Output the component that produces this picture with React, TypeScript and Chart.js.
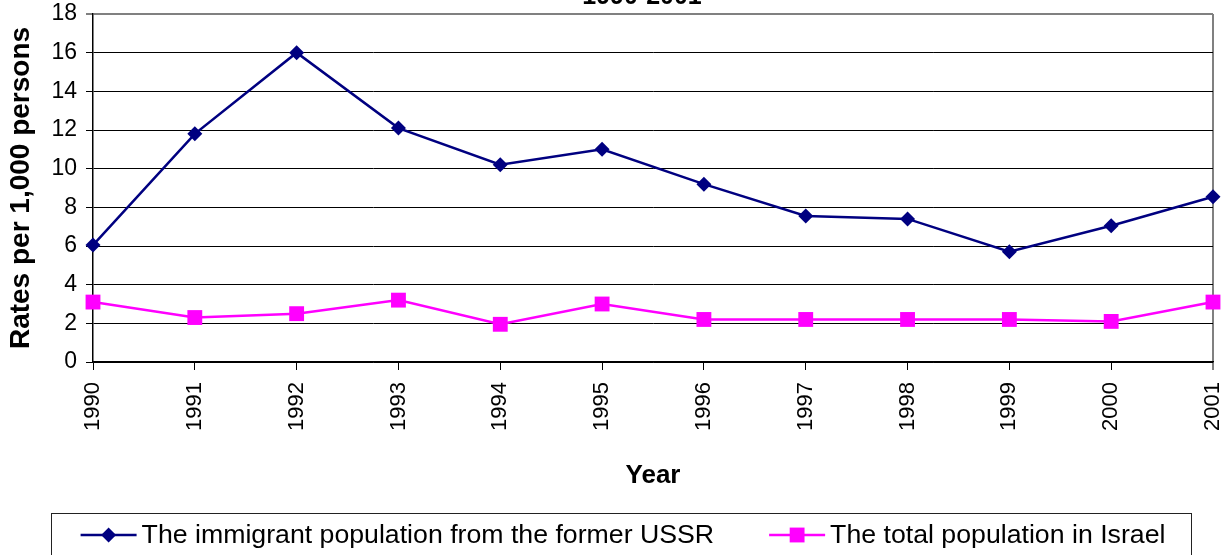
import React, { useEffect, useRef } from 'react';
import { Chart, registerables } from 'chart.js';

Chart.register(...registerables);

// ---- data ----
const years = ['1990', '1991', '1992', '1993', '1994', '1995', '1996', '1997', '1998', '1999', '2000', '2001'];
const immigrantRates = [6.05, 11.8, 16.0, 12.1, 10.2, 11.0, 9.2, 7.55, 7.4, 5.7, 7.05, 8.55];
const totalRates = [3.1, 2.3, 2.5, 3.2, 1.95, 3.0, 2.2, 2.2, 2.2, 2.2, 2.1, 3.1];
const seriesLabels = ['The immigrant population from the former USSR', 'The total population in Israel'];
const yMin = 0;
const yMax = 18;
const yStep = 2;
const chartTitle = '1990-2001';
const yAxisTitle = 'Rates per 1,000 persons';
const xAxisTitle = 'Year';

const FONT = '"Liberation Sans", Arial, Helvetica, sans-serif';

function drawMarker(ctx: CanvasRenderingContext2D, style: string, x: number, y: number, r: number, color: string) {
  ctx.fillStyle = color;
  ctx.beginPath();
  if (style === 'rectRot') {
    ctx.moveTo(x, y - r);
    ctx.lineTo(x + r, y);
    ctx.lineTo(x, y + r);
    ctx.lineTo(x - r, y);
    ctx.closePath();
  } else {
    const s = r * Math.SQRT1_2;
    ctx.rect(x - s, y - s, 2 * s, 2 * s);
  }
  ctx.fill();
}

const boxedLegend = {
  id: 'boxedLegend',
  afterDraw(chart: any, _args: any, opts: any) {
    const ctx: CanvasRenderingContext2D = chart.ctx;
    ctx.save();
    ctx.strokeStyle = opts.borderColor;
    ctx.lineWidth = 1;
    ctx.strokeRect(opts.left + 0.5, opts.top + 0.5, opts.width, opts.height);
    ctx.font = `${opts.fontSize}px ${FONT}`;
    ctx.textBaseline = 'middle';
    ctx.textAlign = 'left';
    const items = chart.data.datasets.map((ds: any) => ({
      label: ds.label as string,
      color: ds.borderColor as string,
      style: ds.pointStyle as string,
      radius: ds.pointRadius as number,
      lw: ds.borderWidth as number,
    }));
    const widths = items.map((it: any) => opts.lineLen + opts.textGap + ctx.measureText(it.label).width);
    const total = widths.reduce((a: number, b: number) => a + b, 0) + opts.itemGap * (items.length - 1);
    let x = opts.left + opts.width / 2 - total / 2 + opts.shift;
    const y = opts.centerY;
    items.forEach((it: any, i: number) => {
      ctx.strokeStyle = it.color;
      ctx.lineWidth = it.lw;
      ctx.beginPath();
      ctx.moveTo(x, y);
      ctx.lineTo(x + opts.lineLen, y);
      ctx.stroke();
      drawMarker(ctx, it.style, x + opts.lineLen / 2, y, it.radius, it.color);
      ctx.fillStyle = '#000';
      ctx.fillText(it.label, x + opts.lineLen + opts.textGap, y + 1);
      x += widths[i] + opts.itemGap;
    });
    ctx.restore();
  },
};

const clippedTitle = {
  id: 'clippedTitle',
  afterDraw(chart: any, _args: any, opts: any) {
    const ctx: CanvasRenderingContext2D = chart.ctx;
    const area = chart.chartArea;
    ctx.save();
    ctx.font = `bold ${opts.fontSize}px ${FONT}`;
    ctx.fillStyle = '#000';
    ctx.textAlign = 'center';
    ctx.textBaseline = 'alphabetic';
    ctx.fillText(opts.text, (area.left + area.right) / 2 + opts.dx, opts.baseline);
    ctx.restore();
  },
};

export default function App() {
  const canvasRef = useRef<HTMLCanvasElement | null>(null);

  useEffect(() => {
    document.body.style.margin = '0';
    const canvas = canvasRef.current;
    if (!canvas) return;
    const chart = new Chart(canvas, {
      type: 'line',
      data: {
        labels: years,
        datasets: [
          {
            label: seriesLabels[0],
            data: immigrantRates,
            borderColor: '#000080',
            backgroundColor: '#000080',
            borderWidth: 2.5,
            pointStyle: 'rectRot',
            pointRadius: 7.5,
            pointHoverRadius: 7.5,
            pointBorderWidth: 0,
            pointBackgroundColor: '#000080',
            tension: 0,
            clip: false,
          },
          {
            label: seriesLabels[1],
            data: totalRates,
            borderColor: '#FF00FF',
            backgroundColor: '#FF00FF',
            borderWidth: 2.5,
            pointStyle: 'rect',
            pointRadius: 10.5,
            pointHoverRadius: 10.5,
            pointBorderWidth: 0,
            pointBackgroundColor: '#FF00FF',
            tension: 0,
            clip: false,
          },
        ],
      } as any,
      options: {
        responsive: false,
        animation: false,
        events: [],
        layout: { padding: { top: 14, right: 13, left: 0, bottom: 64 } },
        plugins: {
          legend: { display: false },
          tooltip: { enabled: false },
          title: { display: false },
          boxedLegend: {
            left: 51,
            top: 513,
            width: 1140,
            height: 60,
            borderColor: '#222',
            fontSize: 26.7,
            lineLen: 56,
            textGap: 5,
            itemGap: 55,
            centerY: 535,
            shift: 2,
          },
          clippedTitle: { text: chartTitle, fontSize: 25, dx: -11, baseline: 4 },
        } as any,
        scales: {
          x: {
            type: 'category',
            offset: false,
            afterFit: (scale: any) => {
              scale.height = 129;
              scale.paddingLeft = 0;
              scale.paddingRight = 0;
            },
            border: { display: true, color: '#000', width: 1.5 },
            grid: {
              display: true,
              drawOnChartArea: true,
              drawTicks: true,
              tickLength: 8,
              tickColor: '#000',
              tickWidth: 1,
              color: (c: any) => (c.index === years.length - 1 ? '#808080' : 'rgba(0,0,0,0)'),
              lineWidth: (c: any) => (c.index === years.length - 1 ? 2 : 1),
            },
            ticks: {
              autoSkip: false,
              minRotation: 90,
              maxRotation: 90,
              padding: 12,
              color: '#000',
              font: { family: FONT, size: 22 },
            },
            title: {
              display: true,
              text: xAxisTitle,
              color: '#000',
              padding: { top: 0, bottom: 0 },
              font: { family: FONT, size: 26, weight: 'bold' },
            },
          },
          y: {
            min: yMin,
            max: yMax,
            afterFit: (scale: any) => {
              scale.width = 93;
              scale.paddingTop = 0;
              scale.paddingBottom = 0;
            },
            border: { display: true, color: '#000', width: 1.5 },
            grid: {
              drawTicks: true,
              tickLength: 7,
              tickColor: '#000',
              tickWidth: 1,
              color: (c: any) => (c.tick && c.tick.value === yMax ? '#808080' : '#000'),
              lineWidth: (c: any) => (c.tick && c.tick.value === yMax ? 2 : 1),
            },
            ticks: {
              stepSize: yStep,
              padding: 9,
              color: '#000',
              font: { family: FONT, size: 23 },
            },
            title: {
              display: true,
              text: yAxisTitle,
              color: '#000',
              padding: { top: 4, bottom: 0 },
              font: { family: FONT, size: 28, weight: 'bold' },
            },
          },
        },
      } as any,
      plugins: [boxedLegend, clippedTitle] as any,
    });
    return () => chart.destroy();
  }, []);

  return (
    <div style={{ width: 1226, height: 555, position: 'relative', overflow: 'hidden' }}>
      <canvas ref={canvasRef} width={1226} height={555} style={{ display: 'block' }} />
    </div>
  );
}
